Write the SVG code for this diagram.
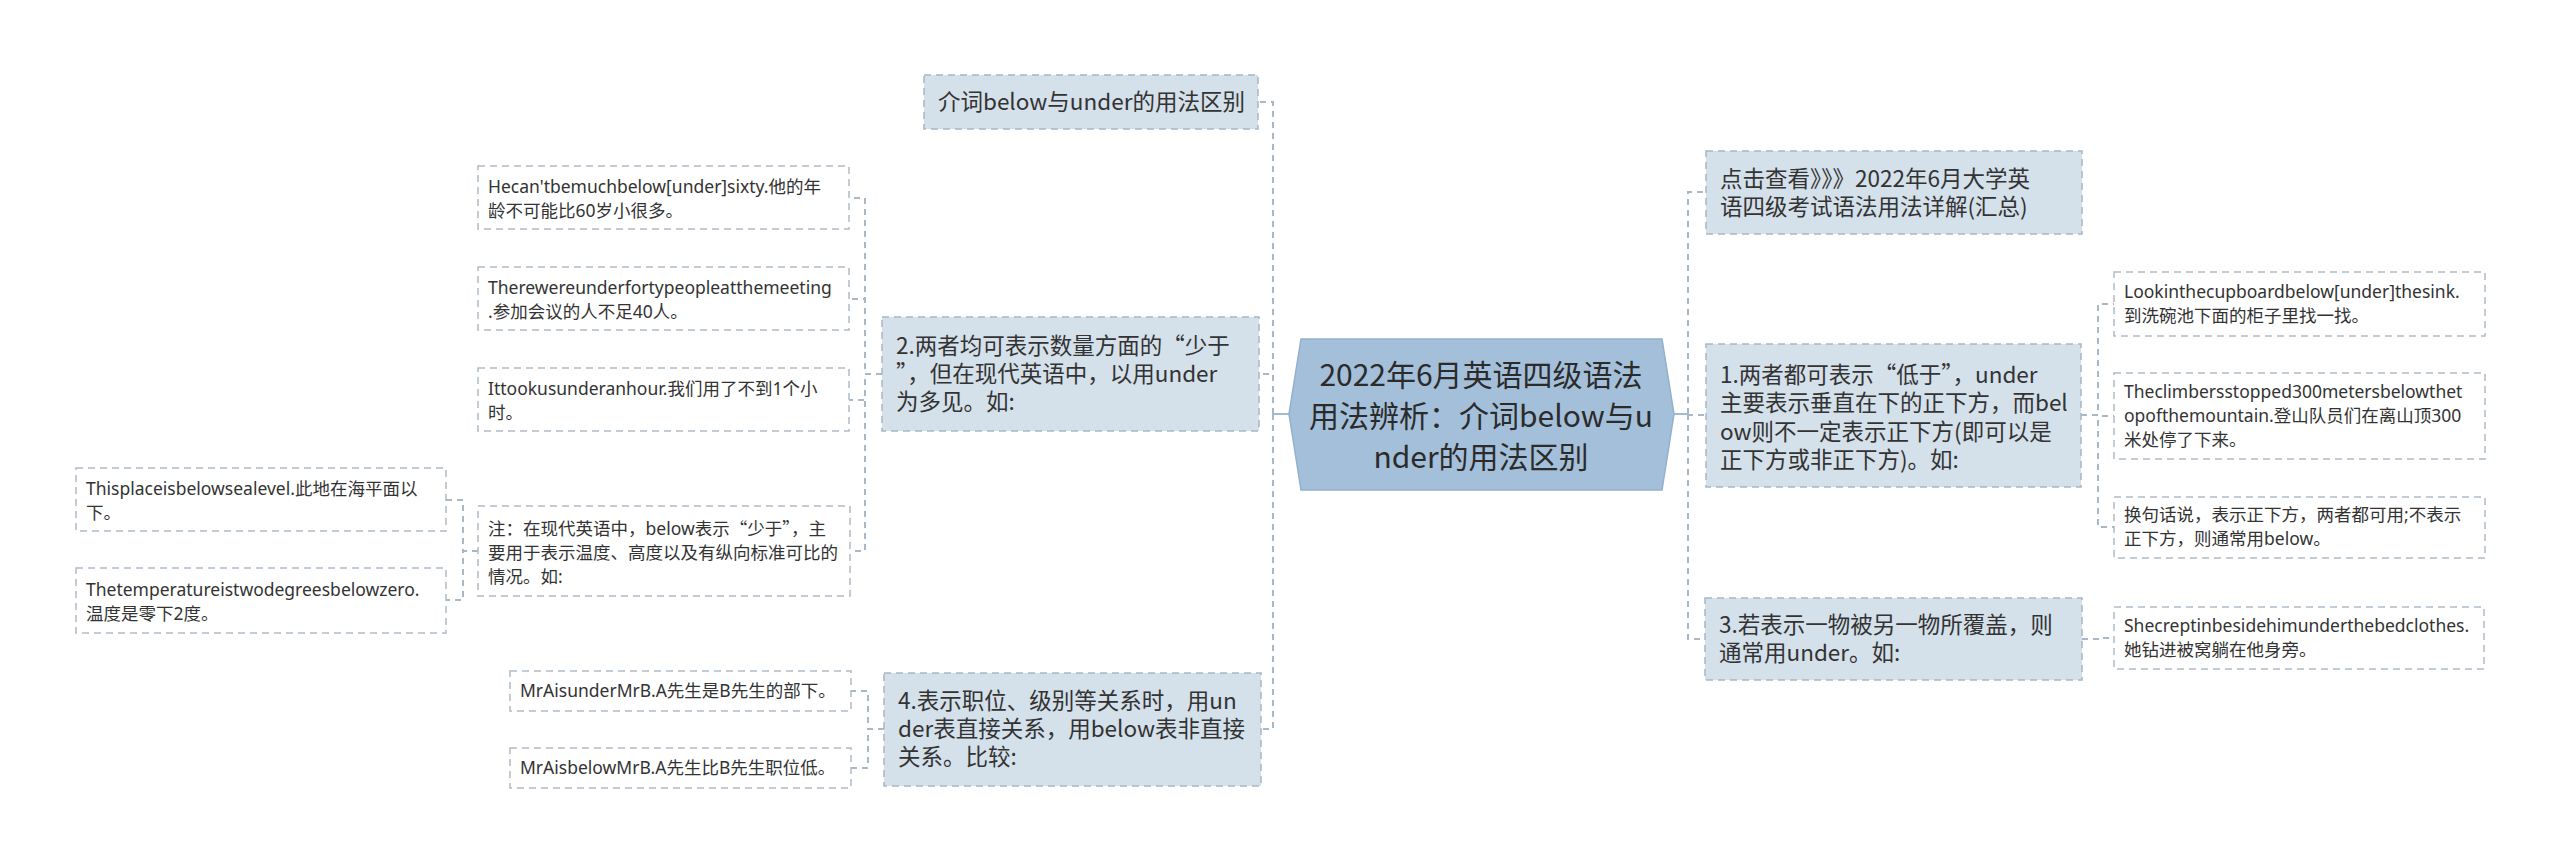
<svg xmlns="http://www.w3.org/2000/svg" width="2560" height="864" viewBox="0 0 2560 864">
<style>
text{font-family:"Noto Sans CJK SC","Microsoft YaHei",sans-serif;fill:#333333}
.c{font-size:30px;text-anchor:middle;fill:#2b2b2b}
.l1{font-size:22.5px}
.lf{font-size:17.5px;font-family:"Noto Sans","Noto Sans CJK SC",sans-serif}
.q{font-family:"Noto Sans CJK SC",sans-serif}
.b1{fill:#d4e0ea;stroke:#a7b6c5;stroke-width:1.5;stroke-dasharray:7 5}
.lfb{fill:#ffffff;stroke:#b0bcc8;stroke-width:1.5;stroke-dasharray:7 5}
.cn{fill:none;stroke:#a9b8c7;stroke-width:2;stroke-dasharray:6 5}
.cs{fill:none;stroke:#9fbbd6;stroke-width:2}
</style>
<rect width="2560" height="864" fill="#ffffff"/>
<g id="connectors">
<path class="cs" d="M1289 414H1273"/>
<path class="cs" d="M1674 414H1688"/>
<path class="cn" d="M1273 414V102H1258"/>
<path class="cn" d="M1273 414V374H1259"/>
<path class="cn" d="M1273 414V729H1261"/>
<path class="cn" d="M1688 414V192H1706"/>
<path class="cn" d="M1688 414V415H1706"/>
<path class="cn" d="M1688 414V639H1705"/>
<path class="cn" d="M882 374H865V198H849"/>
<path class="cn" d="M882 374H865V299H849"/>
<path class="cn" d="M882 374H865V400H849"/>
<path class="cn" d="M882 374H865V551H850"/>
<path class="cn" d="M478 551H463V500H446"/>
<path class="cn" d="M478 551H463V600H446"/>
<path class="cn" d="M884 729H868V691H851"/>
<path class="cn" d="M884 729H868V768H851"/>
<path class="cn" d="M2081 415H2098V304H2114"/>
<path class="cn" d="M2081 415H2098V416H2114"/>
<path class="cn" d="M2081 415H2098V527H2114"/>
<path class="cn" d="M2082 639H2098V638H2114"/>
</g>
<g id="center">
<polygon points="1301,339 1662,339 1674,414 1662,490 1301,490 1289,414" fill="#a4bfd9" stroke="#93b0cc" stroke-width="1.5"/>
<text class="c" x="1481" y="386">2022年6月英语四级语法</text>
<text class="c" x="1481" y="427">用法辨析：介词below与u</text>
<text class="c" x="1481" y="468">nder的用法区别</text>
</g>
<g id="nodeA">
<rect class="b1" x="924" y="75" width="334" height="54"/>
<text class="l1" x="938" y="110">介词below与under的用法区别</text>
</g>
<g id="nodeB">
<rect class="b1" x="882" y="317" width="377" height="114"/>
<text class="l1" x="896" y="354">2.两者均可表示数量方面的“少于</text>
<text class="l1" x="896" y="382">”，但在现代英语中，以用under</text>
<text class="l1" x="896" y="410">为多见。如:</text>
</g>
<g id="nodeC">
<rect class="b1" x="884" y="673" width="377" height="113"/>
<text class="l1" x="898" y="709">4.表示职位、级别等关系时，用un</text>
<text class="l1" x="898" y="737">der表直接关系，用below表非直接</text>
<text class="l1" x="898" y="765">关系。比较:</text>
</g>
<g id="leafB1">
<rect class="lfb" x="478" y="166" width="371" height="63"/>
<text class="lf" x="488" y="193">Hecan'tbemuchbelow[under]sixty.他的年</text>
<text class="lf" x="488" y="217">龄不可能比60岁小很多。</text>
</g>
<g id="leafB2">
<rect class="lfb" x="478" y="267" width="371" height="63"/>
<text class="lf" x="488" y="294">Therewereunderfortypeopleatthemeeting</text>
<text class="lf" x="488" y="318">.参加会议的人不足40人。</text>
</g>
<g id="leafB3">
<rect class="lfb" x="478" y="368" width="371" height="63"/>
<text class="lf" x="488" y="395">Ittookusunderanhour.我们用了不到1个小</text>
<text class="lf" x="488" y="419">时。</text>
</g>
<g id="leafB4">
<rect class="lfb" x="478" y="506" width="372" height="90"/>
<text class="lf" x="488" y="535">注：在现代英语中，below表示<tspan class="q">“</tspan>少于<tspan class="q">”</tspan>，主</text>
<text class="lf" x="488" y="559">要用于表示温度、高度以及有纵向标准可比的</text>
<text class="lf" x="488" y="583">情况。如:</text>
</g>
<g id="leafB4a">
<rect class="lfb" x="76" y="468" width="370" height="63"/>
<text class="lf" x="86" y="495">Thisplaceisbelowsealevel.此地在海平面以</text>
<text class="lf" x="86" y="519">下。</text>
</g>
<g id="leafB4b">
<rect class="lfb" x="76" y="568" width="370" height="65"/>
<text class="lf" x="86" y="596">Thetemperatureistwodegreesbelowzero.</text>
<text class="lf" x="86" y="620">温度是零下2度。</text>
</g>
<g id="leafC1">
<rect class="lfb" x="510" y="671" width="341" height="40"/>
<text class="lf" x="520" y="697">MrAisunderMrB.A先生是B先生的部下。</text>
</g>
<g id="leafC2">
<rect class="lfb" x="510" y="748" width="341" height="40"/>
<text class="lf" x="520" y="774">MrAisbelowMrB.A先生比B先生职位低。</text>
</g>
<g id="nodeR0">
<rect class="b1" x="1706" y="151" width="376" height="83"/>
<text class="l1" x="1720" y="187">点击查看》》》2022年6月大学英</text>
<text class="l1" x="1720" y="215">语四级考试语法用法详解(汇总)</text>
</g>
<g id="nodeR1">
<rect class="b1" x="1706" y="344" width="375" height="143"/>
<text class="l1" x="1720" y="383">1.两者都可表示“低于”，under</text>
<text class="l1" x="1720" y="411">主要表示垂直在下的正下方，而bel</text>
<text class="l1" x="1720" y="440">ow则不一定表示正下方(即可以是</text>
<text class="l1" x="1720" y="468">正下方或非正下方)。如:</text>
</g>
<g id="nodeR3">
<rect class="b1" x="1705" y="598" width="377" height="82"/>
<text class="l1" x="1719" y="633">3.若表示一物被另一物所覆盖，则</text>
<text class="l1" x="1719" y="661">通常用under。如:</text>
</g>
<g id="leafR1a">
<rect class="lfb" x="2114" y="272" width="371" height="64"/>
<text class="lf" x="2124" y="298">Lookinthecupboardbelow[under]thesink.</text>
<text class="lf" x="2124" y="322">到洗碗池下面的柜子里找一找。</text>
</g>
<g id="leafR1b">
<rect class="lfb" x="2114" y="373" width="371" height="86"/>
<text class="lf" x="2124" y="398">Theclimbersstopped300metersbelowthet</text>
<text class="lf" x="2124" y="422">opofthemountain.登山队员们在离山顶300</text>
<text class="lf" x="2124" y="446">米处停了下来。</text>
</g>
<g id="leafR1c">
<rect class="lfb" x="2114" y="497" width="371" height="61"/>
<text class="lf" x="2124" y="521">换句话说，表示正下方，两者都可用;不表示</text>
<text class="lf" x="2124" y="545">正下方，则通常用below。</text>
</g>
<g id="leafR3">
<rect class="lfb" x="2114" y="607" width="370" height="62"/>
<text class="lf" x="2124" y="632">Shecreptinbesidehimunderthebedclothes.</text>
<text class="lf" x="2124" y="656">她钻进被窝躺在他身旁。</text>
</g>
</svg>
